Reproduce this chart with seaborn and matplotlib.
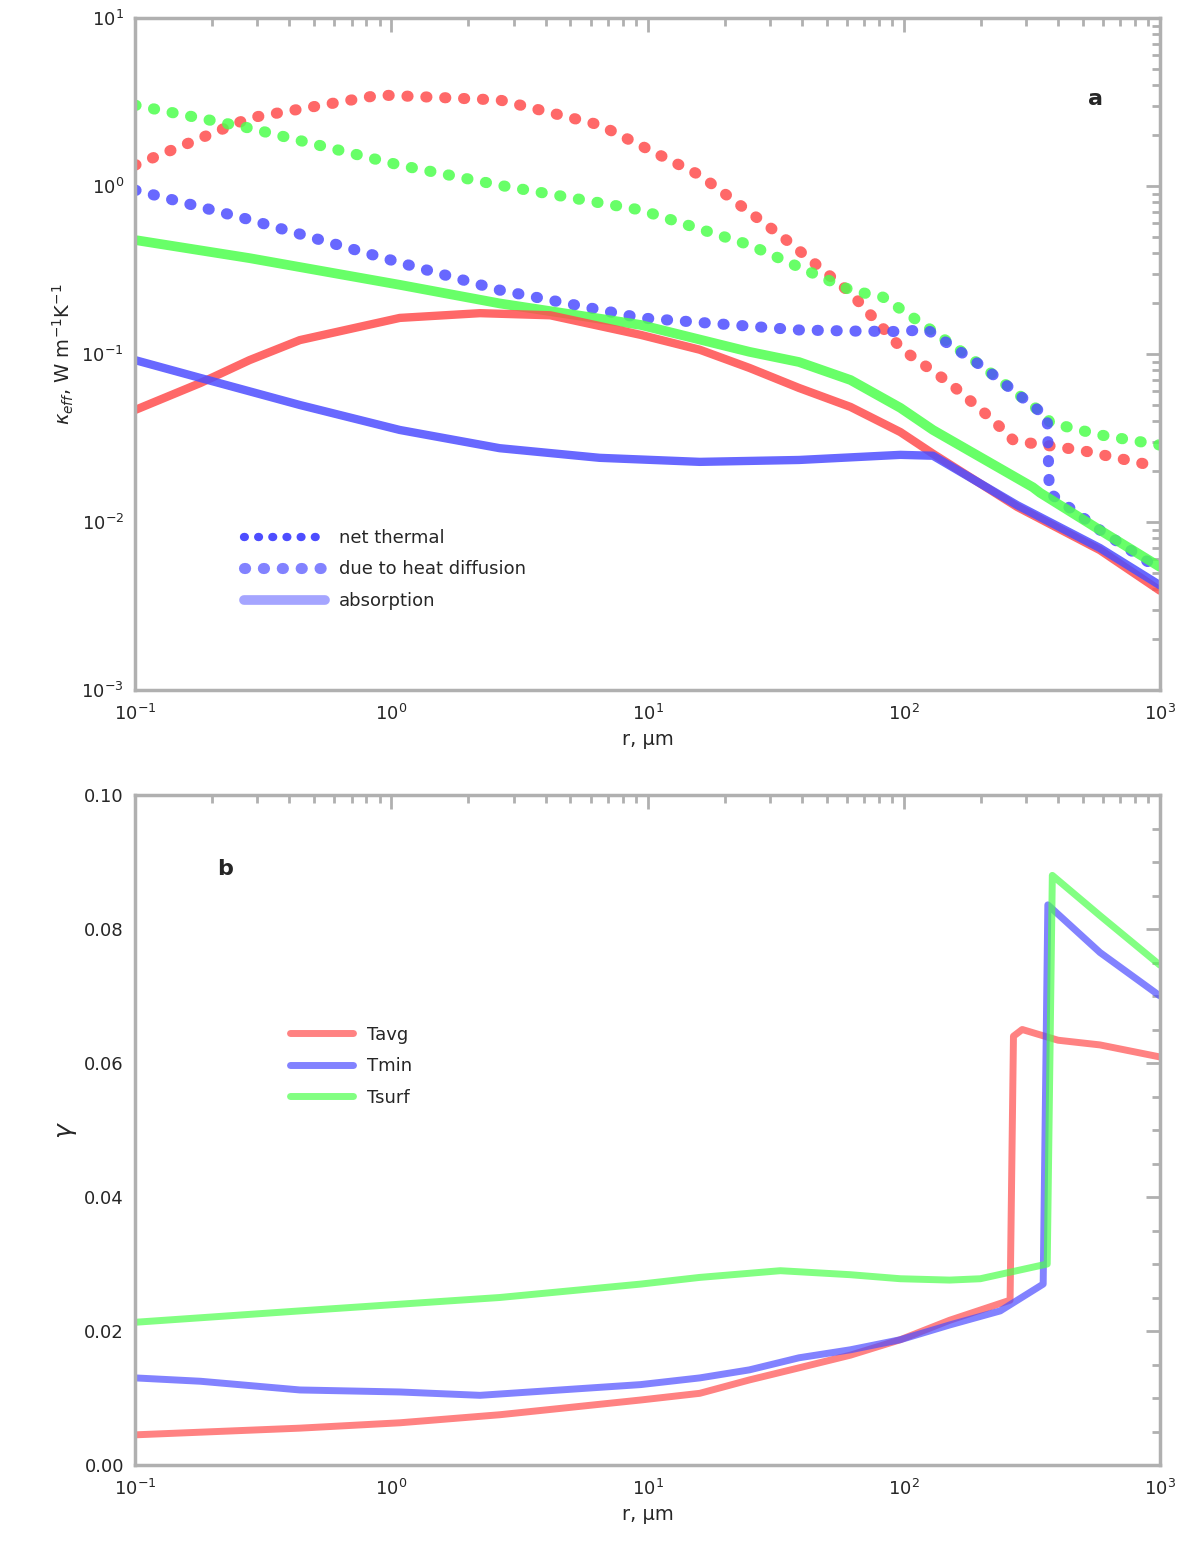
import numpy as np
import pandas as pd
import seaborn as sns
import matplotlib
matplotlib.use("Agg")
import matplotlib.pyplot as plt
from matplotlib.ticker import LogLocator, MultipleLocator, NullFormatter

# ---- panel a: log-log curves (r in um) ----
r_red_dot = [0.1, 0.28, 0.9, 2.65, 6.5, 16, 33, 62, 99, 151, 223, 267, 311, 488, 1000]
v_red_dot = [1.33, 2.54, 3.48, 3.25, 2.31, 1.16, 0.51, 0.231, 0.106, 0.0672, 0.0404, 0.0308, 0.0295, 0.0268, 0.0212]

r_grn_dot = [0.1, 0.28, 1.08, 2.65, 9.4, 25, 62, 83, 123, 204, 363, 372, 583, 1000]
v_grn_dot = [3.03, 2.21, 1.33, 1.01, 0.72, 0.446, 0.24, 0.218, 0.145, 0.0837, 0.0421, 0.039, 0.033, 0.0287]

r_blu_dot = [0.1, 0.28, 1.08, 2.65, 9.4, 39, 62, 97, 123, 204, 363, 370, 583, 1000]
v_blu_dot = [0.946, 0.63, 0.35, 0.24, 0.164, 0.139, 0.137, 0.136, 0.14, 0.0837, 0.0421, 0.0149, 0.00895, 0.0052]

r_grn_sol = [0.1, 0.28, 1.08, 2.65, 9.4, 25, 39, 62, 97, 130, 319, 341, 583, 1000]
v_grn_sol = [0.477, 0.372, 0.258, 0.2, 0.149, 0.103, 0.0896, 0.07, 0.0478, 0.0353, 0.0161, 0.0149, 0.00895, 0.0054]

r_red_sol = [0.1, 0.18, 0.28, 0.44, 1.08, 2.22, 4.17, 9.4, 16, 25, 39, 62, 97, 130, 277, 583, 1000]
v_red_sol = [0.0464, 0.0672, 0.092, 0.121, 0.164, 0.175, 0.17, 0.13, 0.106, 0.0826, 0.0628, 0.0484, 0.0343, 0.0255, 0.0123, 0.0068, 0.0039]

r_blu_sol = [0.1, 0.18, 0.44, 1.08, 2.65, 6.5, 16, 39, 97, 130, 277, 583, 1000]
v_blu_sol = [0.092, 0.072, 0.0497, 0.0353, 0.0275, 0.0241, 0.0228, 0.0234, 0.0251, 0.0248, 0.0126, 0.007, 0.0042]

# ---- panel b: linear y ----
r_b_red = [0.1, 0.44, 1.08, 2.65, 9.4, 16, 25, 39, 62, 97, 151, 260, 268, 290, 400, 583, 1000]
v_b_red = [0.0045, 0.0055, 0.0063, 0.0075, 0.0097, 0.0107, 0.0127, 0.0145, 0.0164, 0.0187, 0.0216, 0.0246, 0.064, 0.065, 0.0634, 0.0627, 0.0609]

r_b_blu = [0.1, 0.18, 0.44, 1.08, 2.22, 9.4, 16, 25, 39, 62, 97, 151, 238, 350, 365, 583, 1000]
v_b_blu = [0.013, 0.0125, 0.0112, 0.0109, 0.0104, 0.012, 0.013, 0.0142, 0.016, 0.0172, 0.0187, 0.0209, 0.023, 0.027, 0.0836, 0.0765, 0.070]

r_b_grn = [0.1, 0.44, 2.65, 9.4, 16, 33, 62, 97, 151, 199, 363, 380, 583, 1000]
v_b_grn = [0.0213, 0.023, 0.025, 0.027, 0.028, 0.029, 0.0284, 0.0278, 0.0276, 0.0278, 0.030, 0.088, 0.082, 0.0746]

legend_a = ["net thermal", "due to heat diffusion", "absorption"]
legend_b = ["Tavg", "Tmin", "Tsurf"]

RED, BLUE, GREEN = "#ff4d4d", "#4d4dff", "#4dff4d"


def draw(ax, x, y, color, dotted=False, lw=6, alpha=0.85, label=None):
    df = pd.DataFrame({"r": x, "v": y})
    sns.lineplot(data=df, x="r", y="v", ax=ax, color=color, lw=lw, alpha=alpha,
                 sort=False, estimator=None, label=label,
                 linestyle=(0, (0.1, 1.6)) if dotted else "-",
                 dash_capstyle="round", solid_capstyle="round",
                 solid_joinstyle="round")


def style_axes(ax):
    for sp in ax.spines.values():
        sp.set_color("#b0b0b0")
        sp.set_linewidth(2.5)
    ax.tick_params(which="both", direction="in", color="#b0b0b0", width=2,
                   labelsize=13, top=True, right=True)
    ax.tick_params(which="major", length=10)
    ax.tick_params(which="minor", length=6)
    ax.tick_params(axis="x", which="major", pad=10)
    ax.tick_params(axis="y", which="major", pad=8)
    ax.grid(False)


sns.set_theme(style="white")
plt.rcParams["font.family"] = ["DejaVu Sans"]

fig = plt.figure(figsize=(12, 15.48), dpi=100)
ax1 = fig.add_axes([135 / 1200, 1 - 690 / 1548, 1025 / 1200, 672 / 1548])
ax2 = fig.add_axes([135 / 1200, 1 - 1465 / 1548, 1025 / 1200, 670 / 1548])

# panel a
draw(ax1, r_red_dot, v_red_dot, RED, dotted=True, lw=8)
draw(ax1, r_grn_dot, v_grn_dot, GREEN, dotted=True, lw=8)
draw(ax1, r_blu_dot, v_blu_dot, BLUE, dotted=True, lw=8)
draw(ax1, r_grn_sol, v_grn_sol, GREEN, lw=7)
draw(ax1, r_red_sol, v_red_sol, RED, lw=6)
draw(ax1, r_blu_sol, v_blu_sol, BLUE, lw=6)
ax1.set_xscale("log")
ax1.set_yscale("log")
ax1.set_xlim(0.1, 1000)
ax1.set_ylim(1e-3, 10)
ax1.yaxis.set_minor_locator(LogLocator(base=10, subs=np.arange(2, 10)))
ax1.xaxis.set_minor_locator(LogLocator(base=10, subs=np.arange(2, 10)))
ax1.yaxis.set_minor_formatter(NullFormatter())
ax1.xaxis.set_minor_formatter(NullFormatter())
ax1.set_xlabel("r, µm", fontsize=14)
ax1.set_ylabel(r"$\kappa_{eff}$, W m$^{-1}$K$^{-1}$", fontsize=14)
ax1.text(0.93, 0.87, "a", transform=ax1.transAxes, fontsize=16, fontweight="bold")
style_axes(ax1)

h1 = [plt.Line2D([], [], color=BLUE, lw=6, linestyle=(0, (0.1, 1.6)), dash_capstyle="round"),
      plt.Line2D([], [], color=BLUE, lw=8, alpha=0.7, linestyle=(0, (0.1, 1.6)), dash_capstyle="round"),
      plt.Line2D([], [], color=BLUE, lw=7, alpha=0.5)]
ax1.legend(h1, legend_a, loc="lower left", bbox_to_anchor=(0.09, 0.095), frameon=False,
           fontsize=13, handlelength=4.5, labelspacing=0.75)

# panel b
draw(ax2, r_b_red, v_b_red, RED, lw=5, alpha=0.7)
draw(ax2, r_b_blu, v_b_blu, BLUE, lw=5, alpha=0.7)
draw(ax2, r_b_grn, v_b_grn, GREEN, lw=5, alpha=0.7)
ax2.set_xscale("log")
ax2.set_xlim(0.1, 1000)
ax2.set_ylim(0, 0.10)
ax2.yaxis.set_major_locator(MultipleLocator(0.02))
ax2.yaxis.set_minor_locator(MultipleLocator(0.005))
ax2.xaxis.set_minor_locator(LogLocator(base=10, subs=np.arange(2, 10)))
ax2.xaxis.set_minor_formatter(NullFormatter())
ax2.yaxis.set_major_formatter(plt.FormatStrFormatter("%.2f"))
ax2.set_xlabel("r, µm", fontsize=14)
ax2.set_ylabel(r"$\gamma$", fontsize=18)
ax2.text(0.08, 0.88, "b", transform=ax2.transAxes, fontsize=16, fontweight="bold")
style_axes(ax2)
h2 = [plt.Line2D([], [], color=c, lw=5, alpha=0.7) for c in (RED, BLUE, GREEN)]
ax2.legend(h2, legend_b, loc="upper left", bbox_to_anchor=(0.135, 0.68), frameon=False,
           fontsize=13, handlelength=3.5, labelspacing=0.75)

fig.savefig("out.png", dpi=100)
